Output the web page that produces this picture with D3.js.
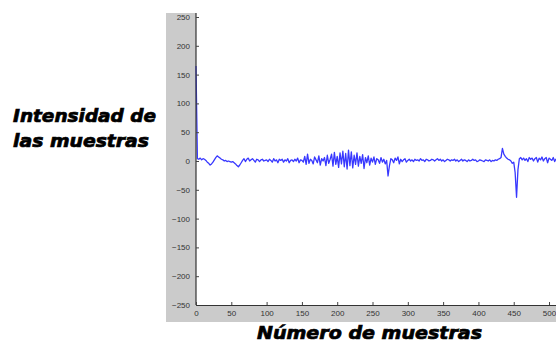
<!DOCTYPE html>
<html>
<head>
<meta charset="utf-8">
<script src="https://cdn.jsdelivr.net/npm/d3@7"></script>
<style>
  html, body { margin: 0; padding: 0; background: #fff; }
  svg { display: block; }
</style>
</head>
<body>
<div id="chart"></div>
<script>
// samples are taken every 2 points (0, 2, 4, ... 510)
const sampleStep = 2;
const intensity = [
  165, 4, 3, 5, 2, 4,
  3, 1, -2, -4, -7, -5, -2, 2, 6, 9,
  7, 5, 3, 2, 0, 1, -1, 0, -1, -2, -1, -3, -5, -8, -10,
  -7, -3, 1, 4, -1, 3, 5, 0, 2, 4, 1, -2, 3, 2, -1,
  2, 3, 0, 1, 2, -1, 3, 1, -2, 4, 0, 2, -3, 3, 1,
  3, -2, 2, 0, 4, -3, 1, 2, -1, 3, 0, 5, -3, 2, 1,
  -2, 8, -6, 12, -4, 3, 1, -5, 7, 2, -3, 9, -7, 4, 0,
  6, -8, 10, -4, 3, 12, -9, 15, -6, 8, -11, 14, -5, 17, -10,
  13, -14, 19, -8, 16, -12, 10, -6, 14, -9, 8, -4, 11, -13, 6,
  -3, 9, -7, 5, -2, 7, -6, 4, 2, -4, 6, -2, 3, -5, 1,
  -26, -8, 4, 2, -3, 5, 1, 7, -5, 3, -1, 2, 4, -2, 1,
  3, 0, 2, -1, 3, 1, 2, 0, 4, 1, 2, -1, 3, 2, 0,
  1, 3, 2, 0, 2, 4, 1, 3, 0, 2, -1, 1, 3, 2, 0,
  2, 1, 3, 0, 2, -1, 1, 3, 0, 2, 1, -1, 2, 0, 1,
  3, 1, 2, -1, 0, 2, 1, 0, -1, 2, 1, 0, 2, -1, 1,
  0, 2, 1, 3, 4, 6, 22, 12, 8, 5, 3, 2, 0, -4, -2,
  -20, -63, -15, 4, 6, 2, 5, 1, 4, -1, 6, 3, 5, 0, 4,
  6, -2, 5, 2, 7, 0, 4, 6, -3, 5, 3, 1, 6, -1, 4
];

const xTicks = [0, 50, 100, 150, 200, 250, 300, 350, 400, 450, 500];
const yTicks = [-250, -200, -150, -100, -50, 0, 50, 100, 150, 200, 250];

const width = 556;
const height = 347;

const svg = d3.select("#chart").append("svg")
    .attr("width", width)
    .attr("height", height);

// grey figure panel behind the axes, white plot area on top
svg.append("rect")
    .attr("x", 166).attr("y", 13)
    .attr("width", width - 166).attr("height", 322 - 13)
    .attr("fill", "#cbcbcb");

const x = d3.scaleLinear().domain([0, 512]).range([196, 557.5]);
const y = d3.scaleLinear().domain([-250, 250]).range([305, 17]);

svg.append("rect")
    .attr("x", x(0)).attr("y", 0)
    .attr("width", width - x(0)).attr("height", y(-250))
    .attr("fill", "#fff");

const points = intensity.map((v, i) => [i * sampleStep, v]);

svg.append("path")
    .datum(points)
    .attr("fill", "none")
    .attr("stroke", "#3838ff")
    .attr("stroke-width", 1.3)
    .attr("stroke-linejoin", "round")
    .attr("d", d3.line().x(d => x(d[0])).y(d => y(d[1])));

const yAxis = svg.append("g")
    .attr("transform", `translate(${x(0)},0)`)
    .call(d3.axisLeft(y).tickValues(yTicks).tickSizeInner(-3).tickSizeOuter(0).tickPadding(6));

const xAxis = svg.append("g")
    .attr("transform", `translate(0,${y(-250)})`)
    .call(d3.axisBottom(x).tickValues(xTicks).tickSizeInner(-3).tickSizeOuter(0).tickPadding(5));

[yAxis, xAxis].forEach(g => {
    g.select(".domain").attr("stroke", "#333").attr("stroke-width", 1.2);
    g.selectAll(".tick line").attr("stroke", "#444");
    g.selectAll(".tick text")
        .attr("fill", "#333")
        .style("font-family", "Liberation Sans, Arial, sans-serif")
        .style("font-size", "8px");
});
yAxis.select(".domain").attr("d", `M0,13V${y(-250)}`);

// axis titles, heavy bold italic
const titleFont = { family: "DejaVu Sans", size: "17px" };

const yTitle = [
    { text: "Intensidad de", x: 13, y: 122, len: 143 },
    { text: "las muestras", x: 13, y: 147, len: 136 }
];

function styleTitle(sel) {
    sel.attr("lengthAdjust", "spacingAndGlyphs")
        .style("font-family", titleFont.family)
        .style("font-size", titleFont.size)
        .style("font-weight", "bold")
        .style("font-style", "italic")
        .attr("fill", "#000")
        .attr("stroke", "#000")
        .attr("stroke-width", 0.7);
}

svg.selectAll("text.ytitle")
    .data(yTitle)
    .enter().append("text")
    .attr("class", "ytitle")
    .attr("x", d => d.x)
    .attr("y", d => d.y)
    .attr("textLength", d => d.len)
    .call(styleTitle)
    .text(d => d.text);

svg.append("text")
    .attr("x", 257)
    .attr("y", 339)
    .attr("textLength", 225)
    .call(styleTitle)
    .text("Número de muestras");
</script>
</body>
</html>
